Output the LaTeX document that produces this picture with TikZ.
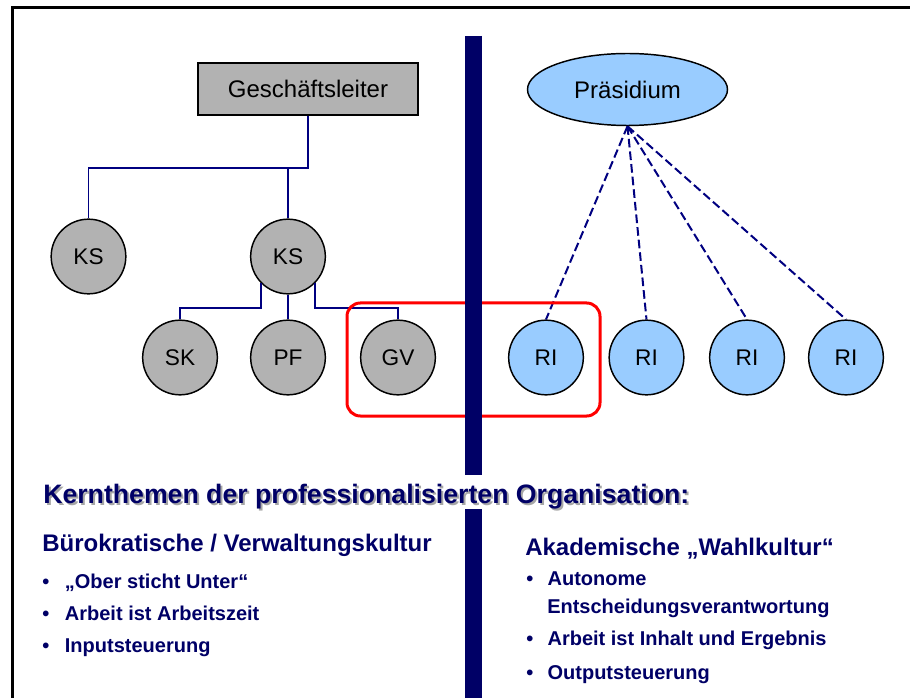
\documentclass[tikz,border=0pt]{standalone}
\usepackage{fontspec}
\setmainfont{Liberation Sans}
\usetikzlibrary{shapes.geometric}

\definecolor{navybar}{RGB}{0,0,102}
\definecolor{navyline}{RGB}{0,0,128}
\definecolor{navytext}{RGB}{0,0,102}
\definecolor{unitgray}{RGB}{178,178,178}
\definecolor{riblue}{RGB}{153,204,255}

\begin{document}
\begin{tikzpicture}[x=0.75pt,y=-0.75pt,
    unit/.style={draw, circle, line width=1.1pt, minimum size=56pt, inner sep=0pt, fill=unitgray, font=\fontsize{17}{20}\selectfont},
    rinode/.style={unit, fill=riblue},
    tree/.style={navyline, line width=1pt},
    link/.style={navyline, line width=1.5pt, dash pattern=on 6.5pt off 3pt},
    heading/.style={anchor=base west, inner sep=0pt, font=\fontsize{20}{24}\bfseries\selectfont},
    subhead/.style={anchor=base west, inner sep=0pt, text=navytext, font=\fontsize{18}{21}\bfseries\selectfont},
    bullet/.style={anchor=base west, inner sep=0pt, text=navytext, font=\fontsize{15}{18}\bfseries\selectfont}]
    \useasboundingbox (0,0) rectangle (910,698);

    % frame
    \draw[line width=2.25pt] (12.5,698) -- (12.5,8) -- (910,8);

    % left side: line organisation
    \node[draw, fill=unitgray, line width=1.1pt, minimum width=165pt, minimum height=39pt, font=\fontsize{18}{21}\selectfont] (gl) at (308,89) {Geschäftsleiter};
    \node[unit] (ks1) at (88.5,256.5) {KS};
    \node[unit] (ks2) at (288,256.5) {KS};
    \node[unit] (sk) at (180,357.5) {SK};
    \node[unit] (pf) at (288,357.5) {PF};
    \node[unit] (gv) at (398,357.5) {GV};

    \coordinate (topbus) at (0,168);
    \coordinate (lowbus) at (0,308);
    \draw[tree] (gl.south) |- (ks1.north |- topbus) -- (ks1.north);
    \draw[tree] (ks2.north) -- (ks2.north |- topbus);
    \draw[tree] (ks2.south west) |- (sk.north |- lowbus) -- (sk.north);
    \draw[tree] (ks2.south) -- (pf.north);
    \draw[tree] (ks2.south east) |- (gv.north |- lowbus) -- (gv.north);

    % right side: academic self-government
    \node[draw, ellipse, fill=riblue, line width=1.1pt, minimum width=150pt, minimum height=54pt, inner sep=0pt, font=\fontsize{18}{21}\selectfont] (pres) at (627.5,89.5) {Präsidium};
    \node[rinode] (ri1) at (546,357.5) {RI};
    \node[rinode] (ri2) at (646.5,357.5) {RI};
    \node[rinode] (ri3) at (747,357.5) {RI};
    \node[rinode] (ri4) at (846,357.5) {RI};

    \foreach \n in {ri1,ri2,ri3,ri4}
        \draw[link] (pres.south) -- (\n.north);

    % highlight
    \draw[red, line width=2.25pt, rounded corners=10pt] (347,303) rectangle (600,416);

    % divider
    \draw[navybar, line width=12.75pt] (473.5,36) -- (473.5,475);
    \draw[navybar, line width=12.75pt] (473.5,509) -- (473.5,698);

    % text
    \node[heading, text=black!35] (kernshadow) at (45,505) {Kernthemen der professionalisierten Organisation:};
    \node[heading, text=navytext] (kern) at (43,503) {Kernthemen der professionalisierten Organisation:};

    \node[subhead] (buero) at (42,551) {Bürokratische / Verwaltungskultur};
    \node[bullet] (b1) at (42,588) {\makebox[17pt][l]{•}„Ober sticht Unter“};
    \node[bullet] (b2) at (42,620) {\makebox[17pt][l]{•}Arbeit ist Arbeitszeit};
    \node[bullet] (b3) at (42,652) {\makebox[17pt][l]{•}Inputsteuerung};

    \node[subhead] (akad) at (525,555) {Akademische „Wahlkultur“};
    \node[bullet] (a1) at (526,585) {\makebox[16pt][l]{•}Autonome};
    \node[bullet] (a1b) at (547,613) {Entscheidungsverantwortung};
    \node[bullet] (a2) at (526,645) {\makebox[16pt][l]{•}Arbeit ist Inhalt und Ergebnis};
    \node[bullet] (a3) at (526,679) {\makebox[16pt][l]{•}Outputsteuerung};
\end{tikzpicture}
\end{document}
